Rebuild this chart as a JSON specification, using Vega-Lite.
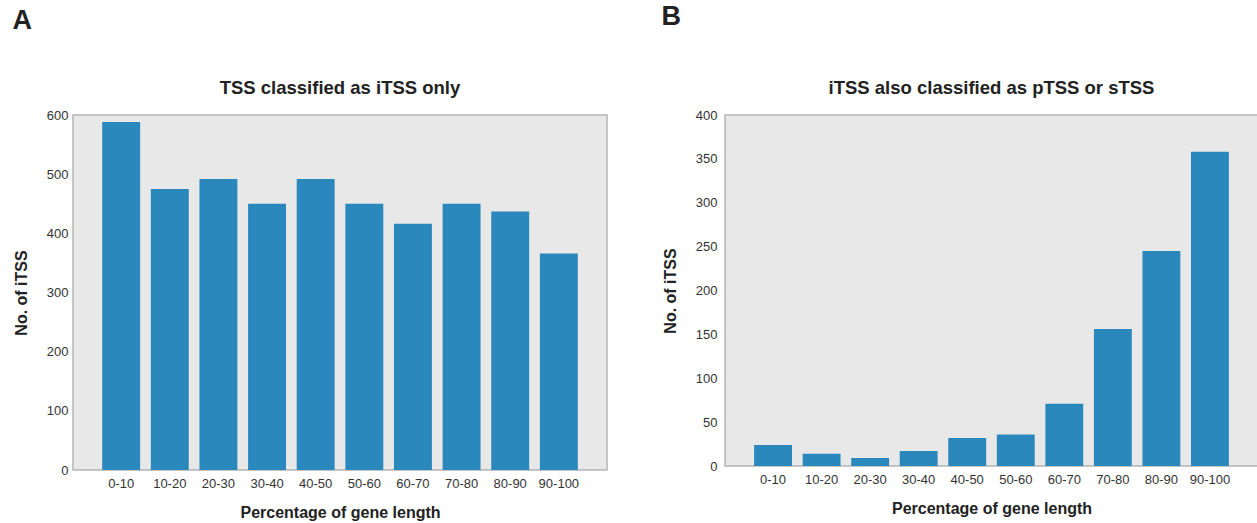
{
  "$schema": "https://vega.github.io/schema/vega-lite/v6.json",
  "background": "white",
  "padding": {"left": 12, "top": 2, "right": 0, "bottom": 0},
  "config": {
    "font": "Liberation Sans",
    "view": {"fill": "#e8e8e8", "stroke": "#b4b4b4", "strokeWidth": 1.5},
    "axis": {
      "grid": false, "ticks": false, "domain": false,
      "labelFont": "Liberation Sans", "labelFontSize": 13, "labelColor": "#333333", "labelPadding": 5,
      "titleFont": "Liberation Sans", "titleFontSize": 16, "titleFontWeight": "bold", "titleColor": "#222222"
    },
    "axisX": {"labelPadding": 7, "titlePadding": 14, "labelAngle": 0},
    "axisY": {"titlePadding": 17},
    "title": {"font": "Liberation Sans", "color": "#222222"},
    "concat": {"spacing": 53}
  },
  "hconcat": [
    {
      "title": {"text": "A", "anchor": "start", "fontSize": 27, "fontWeight": "bold", "offset": 43},
      "vconcat": [
        {
          "width": 534,
          "height": 355,
          "title": {"text": "TSS classified as iTSS only", "fontSize": 18.5, "fontWeight": "bold", "offset": 12},
          "data": {"values": [
            {"range": "0-10", "count": 588},
            {"range": "10-20", "count": 475},
            {"range": "20-30", "count": 492},
            {"range": "30-40", "count": 450},
            {"range": "40-50", "count": 492},
            {"range": "50-60", "count": 450},
            {"range": "60-70", "count": 416},
            {"range": "70-80", "count": 450},
            {"range": "80-90", "count": 437},
            {"range": "90-100", "count": 366}
          ]},
          "mark": {"type": "bar", "color": "#2a88bc"},
          "encoding": {
            "x": {"field": "range", "type": "nominal", "sort": null, "title": "Percentage of gene length",
                  "scale": {"paddingInner": 0.22, "paddingOuter": 0.6}},
            "y": {"field": "count", "type": "quantitative", "title": "No. of iTSS",
                  "scale": {"domain": [0, 600], "nice": false},
                  "axis": {"values": [0, 100, 200, 300, 400, 500, 600]}}
          }
        }
      ]
    },
    {
      "title": {"text": "B", "anchor": "start", "fontSize": 27, "fontWeight": "bold", "offset": 47},
      "vconcat": [
        {
          "width": 533,
          "height": 351,
          "title": {"text": "iTSS also classified as pTSS or sTSS", "fontSize": 18.5, "fontWeight": "bold", "offset": 12},
          "data": {"values": [
            {"range": "0-10", "count": 24},
            {"range": "10-20", "count": 14},
            {"range": "20-30", "count": 9},
            {"range": "30-40", "count": 17},
            {"range": "40-50", "count": 32},
            {"range": "50-60", "count": 36},
            {"range": "60-70", "count": 71},
            {"range": "70-80", "count": 156},
            {"range": "80-90", "count": 245},
            {"range": "90-100", "count": 358}
          ]},
          "mark": {"type": "bar", "color": "#2a88bc"},
          "encoding": {
            "x": {"field": "range", "type": "nominal", "sort": null, "title": "Percentage of gene length",
                  "scale": {"paddingInner": 0.22, "paddingOuter": 0.6}},
            "y": {"field": "count", "type": "quantitative", "title": "No. of iTSS",
                  "scale": {"domain": [0, 400], "nice": false},
                  "axis": {"values": [0, 50, 100, 150, 200, 250, 300, 350, 400], "labelPadding": 8}}
          }
        }
      ]
    }
  ]
}
